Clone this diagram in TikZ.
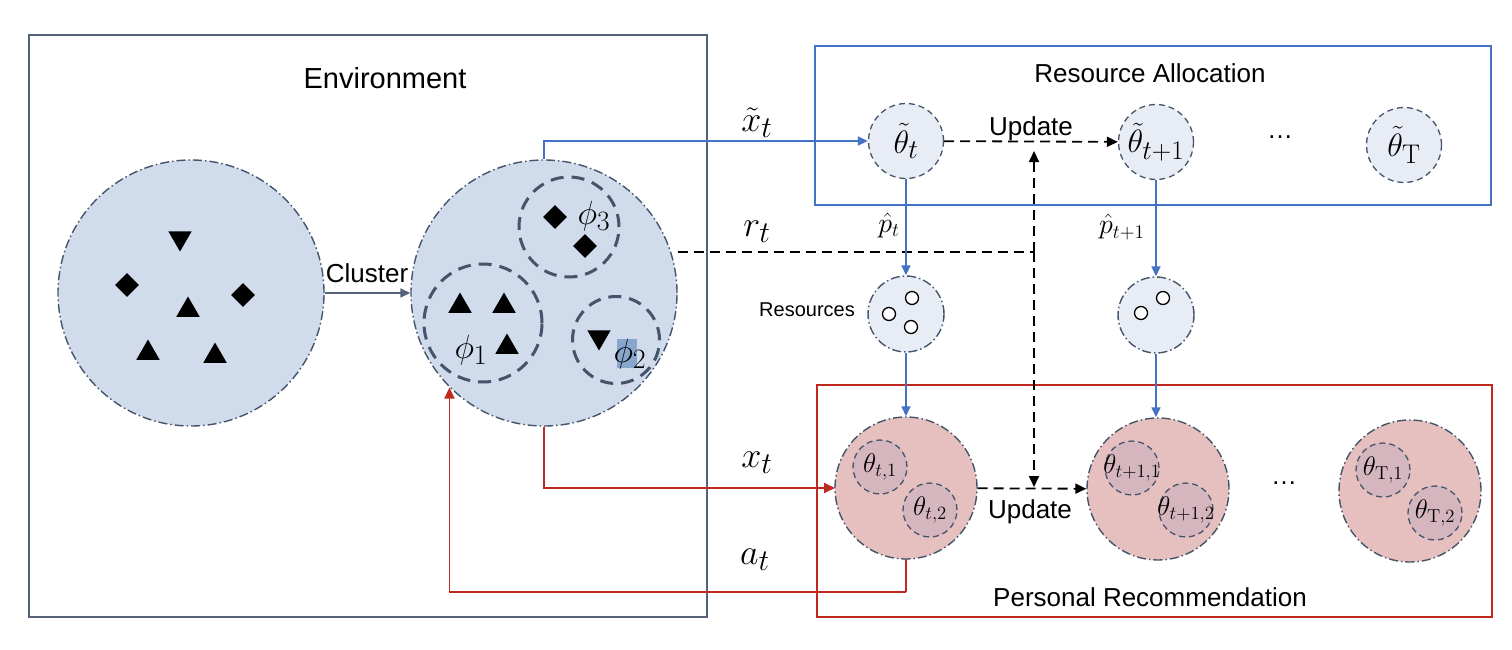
\RequirePackage{fix-cm}
\documentclass[tikz,border=0pt]{standalone}
\usepackage[no-math]{fontspec}
\usepackage{graphicx}
\setmainfont{Liberation Sans}
\usetikzlibrary{arrows.meta,shapes.geometric,calc}
\newcommand{\mlab}[2]{\scalebox{#1}{$#2$}}
\definecolor{slate}{RGB}{84,98,122}
\definecolor{circline}{RGB}{68,84,106}
\definecolor{circfill}{RGB}{208,219,236}
\definecolor{lightfill}{RGB}{232,236,245}
\definecolor{rablue}{RGB}{68,114,196}
\definecolor{prred}{RGB}{192,40,32}
\definecolor{pinkfill}{RGB}{230,192,190}
\definecolor{innerpink}{RGB}{213,182,191}
\definecolor{hilite}{RGB}{135,165,205}
\tikzset{
  dashdotline/.style={draw=circline, line width=1.4pt, dash pattern=on 9pt off 3pt on 1.5pt off 3pt},
  bigcirc/.style={circle, fill=circfill, dashdotline, minimum size=266pt, inner sep=0pt},
  clus/.style={circle, draw=circline, line width=3pt, dash pattern=on 13pt off 8pt, inner sep=0pt},
  tnode/.style={circle, fill=lightfill, draw=circline, line width=1.3pt, dash pattern=on 6pt off 4pt, minimum size=75pt, inner sep=0pt, font=\fontsize{24.88}{30}\selectfont},
  resnode/.style={circle, fill=lightfill, dashdotline, minimum size=76pt, inner sep=0pt},
  prnode/.style={circle, fill=pinkfill, dashdotline, minimum size=142pt, inner sep=0pt},
  innode/.style={circle, fill=innerpink, draw=circline, line width=1.3pt, dash pattern=on 6pt off 4pt, minimum size=54pt, inner sep=0pt},
  inlab/.style={font=\fontsize{20.74}{26}\selectfont, inner sep=0pt},
  smalldot/.style={circle, draw=black, line width=1.3pt, fill=white, minimum size=13pt, inner sep=0pt},
  tri/.style={regular polygon, regular polygon sides=3, fill=black, minimum size=27pt, inner sep=0pt},
  dtri/.style={tri, shape border rotate=180},
  dia/.style={diamond, fill=black, minimum width=24pt, minimum height=24pt, inner sep=0pt},
  boxframe/.style={line width=1.8pt, inner sep=0pt},
  bigtitle/.style={font=\fontsize{29}{34}\selectfont},
  title/.style={font=\fontsize{26}{30}\selectfont},
  mathlab/.style={font=\fontsize{24.88}{30}\selectfont, inner sep=0pt},
  smallmath/.style={font=\fontsize{20.74}{26}\selectfont, inner sep=0pt},
  bluearr/.style={draw=rablue, line width=1.6pt, -{Triangle[length=10pt,width=9pt]}},
  redarr/.style={draw=prred, line width=1.8pt, -{Triangle[length=11pt,width=10pt]}},
  slatearr/.style={draw=slate, line width=1.6pt, -{Triangle[length=10pt,width=9pt]}},
  blk/.style={draw=black, line width=1.8pt, dash pattern=on 10pt off 6pt},
  blkarr/.style={blk, -{Triangle[length=11pt,width=10pt]}},
}
\begin{document}
\begin{tikzpicture}[x=1pt,y=-1pt]
\useasboundingbox (0,0) rectangle (1512,650);
% frames
\node[boxframe, draw=slate, minimum width=678pt, minimum height=582pt] (envbox) at (368,326) {};
\node[boxframe, draw=rablue, minimum width=676pt, minimum height=159pt] (rabox) at (1153,125.5) {};
\node[boxframe, draw=prred, minimum width=675pt, minimum height=232pt] (prbox) at (1154.5,501) {};
\node[bigtitle] (envt) at (385,78) {Environment};
\node[title] (rat) at (1150,73) {Resource Allocation};
\node[title] (prt) at (1150,597) {Personal Recommendation};

% coordinates
\coordinate (j) at (1034,252);
\coordinate (jup) at (1034,151);
\coordinate (jdn) at (1034,487);
\coordinate (abot) at (906,592);

% environment circles
\node[bigcirc] (envc) at (191,293) {};
\node[bigcirc] (clc) at (544,293) {};

% connectors drawn beneath the nodes
\draw[blk] (clc.east |- j) -- (j);
\draw[blkarr] (j) -- (jup);
\draw[blkarr] (j) -- (jdn);
\draw[redarr] (clc.south) |- (835,488) coordinate (prin);
\draw[draw=prred, line width=1.8pt] (906,558) -- (abot);

\node[dtri] (e1) at (180,238) {};
\node[dia] (e2) at (127,285) {};
\node[tri] (e3) at (188,310) {};
\node[dia] (e4) at (243,295) {};
\node[tri] (e5) at (148,353) {};
\node[tri] (e6) at (215,356) {};

\node[clus, minimum size=100pt] (c3) at (569,227) {};
\node[clus, minimum size=118pt] (c1) at (483,323) {};
\node[clus, minimum size=87pt] (c2) at (616,340) {};
\node[fill=hilite, minimum width=20pt, minimum height=29pt, inner sep=0pt] (hl) at (627,353.5) {};
\node[dia] (k1) at (555,217) {};
\node[dia] (k2) at (585,246) {};
\node[tri] (k3) at (460,306) {};
\node[tri] (k4) at (504,306) {};
\node[tri] (k5) at (507,347) {};
\node[dtri] (k6) at (599,337) {};
\node[mathlab] (phi3) at (594,216) {\mlab{1.35}{\phi_3}};
\node[mathlab] (phi1) at (471,350) {\mlab{1.35}{\phi_1}};
\node[mathlab] (phi2) at (630,354) {\mlab{1.35}{\phi_2}};

\draw[slatearr] (envc) -- (clc);
\node[title] (clt) at (367,273) {Cluster};

% resource allocation
\node[tnode] (tt) at (906,141) {\mlab{1.3}{\tilde\theta_t}};
\node[tnode] (tt1) at (1156,142) {\mlab{1.3}{\tilde\theta_{t+1}}};
\node[tnode] (ttT) at (1404,145) {\mlab{1.3}{\tilde\theta_{\mathrm{T}}}};
\node[title] (dots1) at (1280,137) {\ldots};
\draw[blkarr] (tt) -- (tt1);
\node[title] (up1) at (1031,129) {Update};
\draw[bluearr] (clc.north) |- (tt.west);

% resources
\node[resnode] (res1) at (906,314) {};
\node[resnode] (res2) at (1156,315) {};
\node[smalldot] (d1) at (912,298) {};
\node[smalldot] (d2) at (889,314) {};
\node[smalldot] (d3) at (911,327) {};
\node[smalldot] (d4) at (1163,298) {};
\node[smalldot] (d5) at (1141,313) {};
\node[font=\fontsize{20}{24}\selectfont, anchor=east, inner sep=0pt] (rest) at (855,310) {Resources};
\draw[bluearr] (tt) -- (res1);
\draw[bluearr] (tt1) -- (res2);

% personal recommendation
\node[prnode] (pr1) at (906,488) {};
\node[prnode] (pr2) at (1158,489) {};
\node[prnode] (pr3) at (1410,491) {};
\node[innode] (i11) at (880,467) {};
\node[innode] (i12) at (930,510) {};
\node[innode] (i21) at (1132,468) {};
\node[innode] (i22) at (1186,510) {};
\node[innode] (i31) at (1383,470) {};
\node[innode] (i32) at (1435,513) {};
\node[inlab] (l11) at (i11) {\mlab{1.3}{\theta_{t,1}}};
\node[inlab] (l12) at (i12) {\mlab{1.3}{\theta_{t,2}}};
\node[inlab] (l21) at (i21) {\mlab{1.3}{\theta_{t+1,1}}};
\node[inlab] (l22) at (i22) {\mlab{1.3}{\theta_{t+1,2}}};
\node[inlab] (l31) at (i31) {\mlab{1.3}{\theta_{\mathrm{T},1}}};
\node[inlab] (l32) at (i32) {\mlab{1.3}{\theta_{\mathrm{T},2}}};
\node[title] (dots2) at (1284,483) {\ldots};
\draw[blkarr] (pr1) -- (pr2);
\node[title] (up2) at (1030,512) {Update};
\draw[bluearr] (res1) -- (pr1);
\draw[bluearr] (res2.south) -- (res2.south |- pr2.north);
\draw[redarr] (abot) -| (clc.225);

% edge labels
\node[mathlab] (lxt) at (757,123) {\mlab{1.45}{\tilde{x}_t}};
\node[mathlab] (lrt) at (757,232) {\mlab{1.45}{r_t}};
\node[mathlab] (lx) at (757,463) {\mlab{1.45}{x_t}};
\node[mathlab] (la) at (755,560) {\mlab{1.45}{a_t}};
\node[smallmath] (lp1) at (889,225) {\mlab{1.35}{\hat{p}_t}};
\node[smallmath] (lp2) at (1122,227) {\mlab{1.35}{\hat{p}_{t+1}}};
\end{tikzpicture}
\end{document}
